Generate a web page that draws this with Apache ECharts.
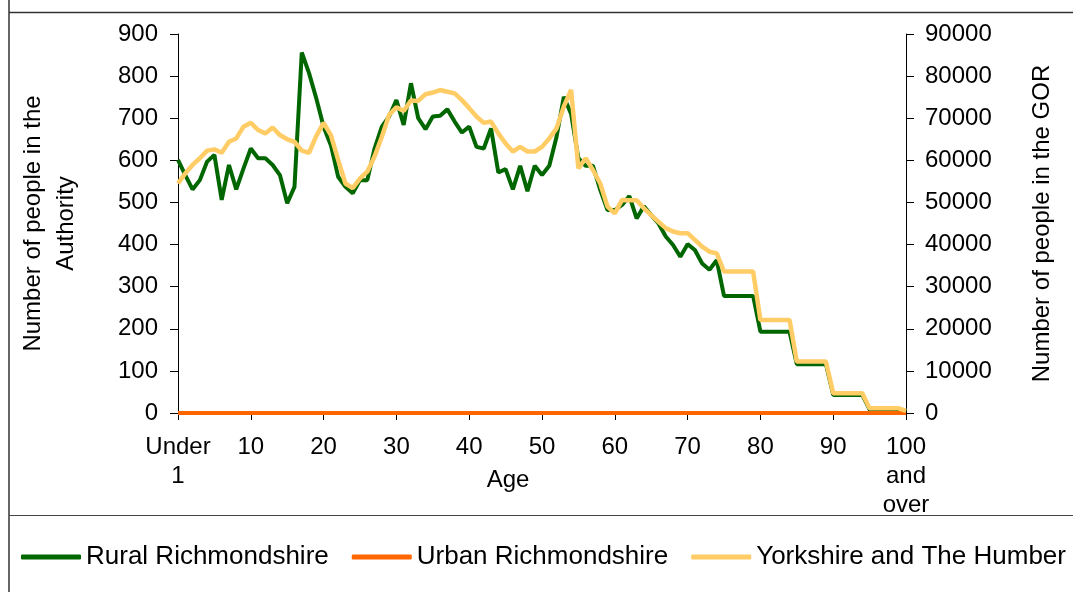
<!DOCTYPE html>
<html>
<head>
<meta charset="utf-8">
<script src="https://cdn.jsdelivr.net/npm/echarts@6/dist/echarts.min.js"></script>
<style>
  html, body { margin: 0; padding: 0; background: #fff; }
  #chart { width: 1073px; height: 592px; }
</style>
</head>
<body>
<div id="chart"></div>
<script>
// ages: "Under 1", 1..99, "100 and over"
const ages = ['Under 1']
for (let a = 1; a < 100; a++) ages.push(String(a))
ages.push('100 and over')

const rural = [
  601, 565, 531, 553, 597, 613, 506, 589, 531, 581,
  628, 605, 605, 589, 565, 498, 537, 856, 807, 747,
  680, 636, 561, 537, 522, 553, 553, 628, 680, 704,
  743, 684, 783, 700, 674, 704, 706, 721, 692, 666,
  680, 632, 628, 676, 571, 579, 531, 587, 527, 587,
  565, 587, 656, 751, 710, 605, 587, 587, 530, 482,
  482, 494, 515, 462, 491, 470, 450, 419, 399, 371,
  401, 387, 355, 340, 363, 278, 278, 278, 278, 278,
  193, 193, 193, 193, 193, 116, 116, 116, 116, 116,
  43, 43, 43, 43, 43, 8, 8, 8, 8, 8,
  3
]

const urban = [
  0, 0, 0, 0, 0, 0, 0, 0, 0, 0,
  0, 0, 0, 0, 0, 0, 0, 0, 0, 0,
  0, 0, 0, 0, 0, 0, 0, 0, 0, 0,
  0, 0, 0, 0, 0, 0, 0, 0, 0, 0,
  0, 0, 0, 0, 0, 0, 0, 0, 0, 0,
  0, 0, 0, 0, 0, 0, 0, 0, 0, 0,
  0, 0, 0, 0, 0, 0, 0, 0, 0, 0,
  0, 0, 0, 0, 0, 0, 0, 0, 0, 0,
  0, 0, 0, 0, 0, 0, 0, 0, 0, 0,
  0, 0, 0, 0, 0, 0, 0, 0, 0, 0,
  0
]

const yorkshire = [
  54500, 56900, 58900, 60500, 62300, 62600, 61800, 64400, 65200, 68000,
  68900, 67200, 66400, 67800, 66000, 65000, 64400, 62300, 61800, 65800,
  68900, 66000, 60100, 54500, 53400, 55700, 57300, 60900, 65600, 70800,
  72600, 71700, 74200, 74100, 75700, 76100, 76700, 76300, 75900, 74300,
  72400, 70400, 68900, 69200, 66400, 64000, 62100, 63200, 62100, 62100,
  63200, 65200, 67600, 72800, 76700, 58100, 60500, 57700, 54500, 49000,
  47400, 50600, 50500, 50500, 48600, 47000, 45400, 43900, 43100, 42700,
  42700, 41100, 39500, 38300, 37900, 33600, 33600, 33600, 33600, 33600,
  22100, 22100, 22100, 22100, 22100, 12200, 12200, 12200, 12200, 12200,
  4700, 4700, 4700, 4700, 4700, 1100, 1100, 1100, 1100, 1100,
  500
]

const font = "'Liberation Sans', Arial, sans-serif"
const every10 = (i) => i % 10 === 0

const chart = echarts.init(document.getElementById('chart'))
chart.setOption({
  backgroundColor: '#fff',
  animation: false,
  textStyle: { fontFamily: font, color: '#000' },
  grid: { left: 178, right: 167, top: 34, bottom: 179 },
  graphic: [
    { type: 'line', shape: { x1: 9, y1: 0, x2: 9, y2: 592 }, style: { stroke: '#333', lineWidth: 1.5 } },
    { type: 'line', shape: { x1: 9, y1: 12.5, x2: 1073, y2: 12.5 }, style: { stroke: '#333', lineWidth: 1.5 } },
    { type: 'line', shape: { x1: 9, y1: 515.5, x2: 1073, y2: 515.5 }, style: { stroke: '#444', lineWidth: 1 } }
  ],
  legend: {
    left: 16,
    top: 539,
    itemGap: 23,
    itemWidth: 60,
    itemHeight: 5,
    icon: 'roundRect',
    textStyle: { fontFamily: font, fontSize: 26, color: '#000' },
    data: ['Rural Richmondshire', 'Urban Richmondshire', 'Yorkshire and The Humber']
  },
  xAxis: {
    type: 'category',
    data: ages,
    boundaryGap: false,
    name: 'Age',
    nameLocation: 'middle',
    nameGap: 55,
    nameMoveOverlap: false,
    nameTextStyle: { fontFamily: font, fontSize: 24, color: '#000', padding: [0, 68, 0, 0] },
    axisLine: { lineStyle: { color: '#000', width: 1 } },
    axisTick: { interval: every10, length: 7, lineStyle: { color: '#000' } },
    axisLabel: {
      interval: every10,
      margin: 20,
      fontSize: 24,
      lineHeight: 29,
      color: '#000',
      fontFamily: font,
      formatter: (v) => v.replace(/ /g, '\n')
    },
    splitLine: { show: false }
  },
  yAxis: [
    {
      type: 'value',
      min: 0,
      max: 900,
      interval: 100,
      name: 'Number of people in the\nAuthority',
      nameLocation: 'middle',
      nameGap: 95,
      nameMoveOverlap: false,
      nameTextStyle: { fontFamily: font, fontSize: 24, color: '#000', lineHeight: 33 },
      axisLine: { show: true, lineStyle: { color: '#000', width: 1 } },
      axisTick: { show: true, length: 8, lineStyle: { color: '#000' } },
      axisLabel: { margin: 20, fontSize: 24, color: '#000', fontFamily: font },
      splitLine: { show: false }
    },
    {
      type: 'value',
      min: 0,
      max: 90000,
      interval: 10000,
      name: 'Number of people in the GOR',
      nameLocation: 'middle',
      nameGap: 124,
      nameMoveOverlap: false,
      nameTextStyle: { fontFamily: font, fontSize: 24, color: '#000' },
      axisLine: { show: true, lineStyle: { color: '#000', width: 1 } },
      axisTick: { show: true, length: 8, lineStyle: { color: '#000' } },
      axisLabel: { margin: 19, fontSize: 24, color: '#000', fontFamily: font, formatter: (v) => String(v) },
      splitLine: { show: false }
    }
  ],
  series: [
    {
      name: 'Rural Richmondshire',
      type: 'line',
      data: rural,
      yAxisIndex: 0,
      symbol: 'none',
      itemStyle: { color: '#006600' },
      lineStyle: { color: '#006600', width: 4 }
    },
    {
      name: 'Urban Richmondshire',
      type: 'line',
      data: urban,
      yAxisIndex: 0,
      symbol: 'none',
      itemStyle: { color: '#ff6600' },
      lineStyle: { color: '#ff6600', width: 4 }
    },
    {
      name: 'Yorkshire and The Humber',
      type: 'line',
      data: yorkshire,
      yAxisIndex: 1,
      symbol: 'none',
      itemStyle: { color: '#ffcc66' },
      lineStyle: { color: '#ffcc66', width: 4.5 }
    }
  ]
})
</script>
</body>
</html>
